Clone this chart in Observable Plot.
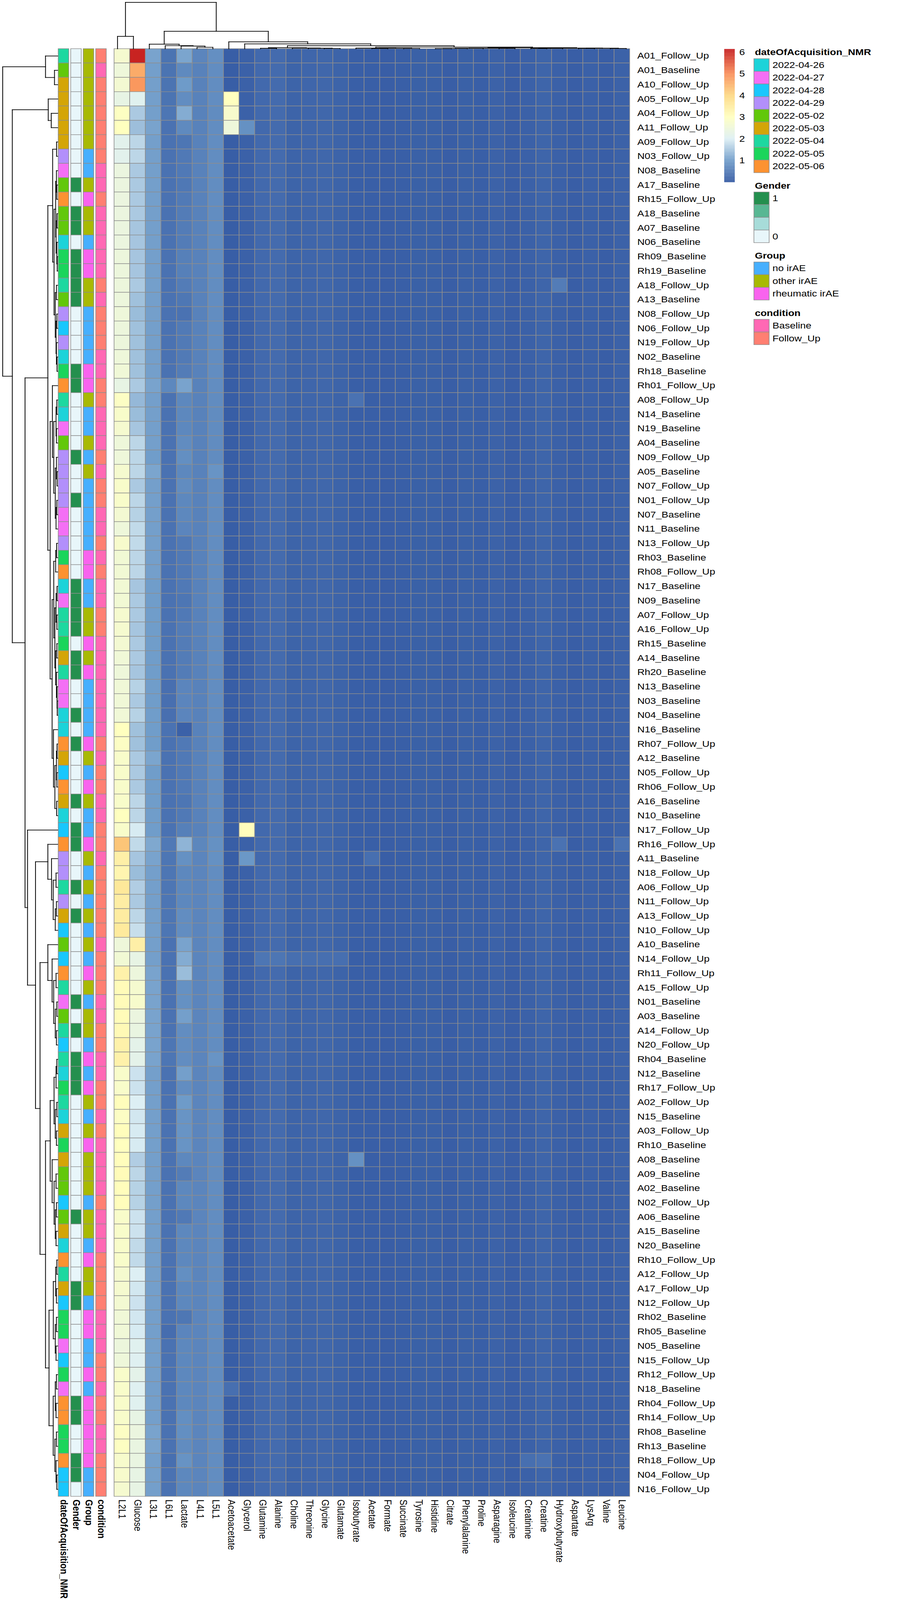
<!DOCTYPE html>
<html><head><meta charset="utf-8">
<script src="https://cdn.jsdelivr.net/npm/d3@7"></script>
<script src="https://cdn.jsdelivr.net/npm/@observablehq/plot@0.6"></script>
<style>
html,body{margin:0;padding:0;background:#fff;overflow:hidden;}
#wrap{position:relative;width:2304px;height:4800px;background:#fff;font-family:"Liberation Sans",Arial,sans-serif;color:#000;transform-origin:0 0;}
#wrap svg{position:absolute;left:0;top:0;overflow:visible;background:transparent;max-width:none!important;}
</style></head>
<body><div id="wrap"></div>
<script>
// ---------------- DATA ----------------
const samples = ["A01_Follow_Up","A01_Baseline","A10_Follow_Up","A05_Follow_Up","A04_Follow_Up","A11_Follow_Up","A09_Follow_Up","N03_Follow_Up","N08_Baseline","A17_Baseline",
"Rh15_Follow_Up","A18_Baseline","A07_Baseline","N06_Baseline","Rh09_Baseline","Rh19_Baseline","A18_Follow_Up","A13_Baseline","N08_Follow_Up","N06_Follow_Up",
"N19_Follow_Up","N02_Baseline","Rh18_Baseline","Rh01_Follow_Up","A08_Follow_Up","N14_Baseline","N19_Baseline","A04_Baseline","N09_Follow_Up","A05_Baseline",
"N07_Follow_Up","N01_Follow_Up","N07_Baseline","N11_Baseline","N13_Follow_Up","Rh03_Baseline","Rh08_Follow_Up","N17_Baseline","N09_Baseline","A07_Follow_Up",
"A16_Follow_Up","Rh15_Baseline","A14_Baseline","Rh20_Baseline","N13_Baseline","N03_Baseline","N04_Baseline","N16_Baseline","Rh07_Follow_Up","A12_Baseline",
"N05_Follow_Up","Rh06_Follow_Up","A16_Baseline","N10_Baseline","N17_Follow_Up","Rh16_Follow_Up","A11_Baseline","N18_Follow_Up","A06_Follow_Up","N11_Follow_Up",
"A13_Follow_Up","N10_Follow_Up","A10_Baseline","N14_Follow_Up","Rh11_Follow_Up","A15_Follow_Up","N01_Baseline","A03_Baseline","A14_Follow_Up","N20_Follow_Up",
"Rh04_Baseline","N12_Baseline","Rh17_Follow_Up","A02_Follow_Up","N15_Baseline","A03_Follow_Up","Rh10_Baseline","A08_Baseline","A09_Baseline","A02_Baseline",
"N02_Follow_Up","A06_Baseline","A15_Baseline","N20_Baseline","Rh10_Follow_Up","A12_Follow_Up","A17_Follow_Up","N12_Follow_Up","Rh02_Baseline","Rh05_Baseline",
"N05_Baseline","N15_Follow_Up","Rh12_Follow_Up","N18_Baseline","Rh04_Follow_Up","Rh14_Follow_Up","Rh08_Baseline","Rh13_Baseline","Rh18_Follow_Up","N04_Follow_Up",
"N16_Follow_Up"];

const metabolites = ["L2L1","Glucose","L3L1","L6L1","Lactate","L4L1","L5L1","Acetoacetate","Glycerol","Glutamine","Alanine","Choline","Threonine","Glycine","Glutamate","Isobutyrate","Acetate","Formate","Succinate","Tyrosine","Histidine","Citrate","Phenylalanine","Proline","Asparagine","Isoleucine","Creatinine","Creatine","Hydroxybutyrate","Aspartate","LysArg","Valine","Leucine"];

const dateOfAcquisition = ["2022-05-04","2022-05-02","2022-05-03","2022-05-03","2022-05-03","2022-05-03","2022-05-03","2022-04-29","2022-04-27","2022-05-02",
"2022-05-06","2022-05-02","2022-05-02","2022-04-26","2022-05-05","2022-05-05","2022-05-04","2022-05-02","2022-04-29","2022-04-28",
"2022-04-29","2022-04-26","2022-05-05","2022-05-06","2022-05-04","2022-04-26","2022-04-27","2022-05-02","2022-04-29","2022-04-29",
"2022-04-29","2022-04-29","2022-04-27","2022-04-27","2022-04-29","2022-05-05","2022-05-06","2022-04-26","2022-04-27","2022-05-04",
"2022-05-04","2022-05-05","2022-05-03","2022-05-04","2022-04-27","2022-04-27","2022-04-26","2022-04-26","2022-05-06","2022-05-03",
"2022-04-28","2022-05-06","2022-05-03","2022-04-26","2022-04-28","2022-05-06","2022-04-29","2022-04-29","2022-05-04","2022-04-29",
"2022-05-03","2022-04-28","2022-05-02","2022-04-28","2022-05-06","2022-05-04","2022-04-27","2022-05-02","2022-05-04","2022-04-28",
"2022-05-04","2022-04-26","2022-05-05","2022-05-04","2022-04-26","2022-05-03","2022-05-05","2022-05-03","2022-05-02","2022-05-02",
"2022-04-28","2022-05-02","2022-05-03","2022-04-26","2022-05-06","2022-05-04","2022-05-03","2022-04-28","2022-05-05","2022-05-05",
"2022-04-27","2022-04-28","2022-05-05","2022-04-27","2022-05-06","2022-05-06","2022-05-05","2022-05-05","2022-05-06","2022-04-28",
"2022-04-28"];
const gender = [0,0,0,0,0,0,0,0,0,1, 0,1,1,0,1,1,1,1,0,0, 0,0,1,1,0,0,0,0,1,0, 0,1,0,0,0,0,0,1,1,1,
1,0,1,1,0,0,1,0,1,0, 0,0,1,0,1,1,0,0,1,0, 1,0,0,0,0,0,1,0,1,0, 1,1,1,0,0,0,0,0,0,0,
0,1,0,0,0,0,1,1,0,0, 0,0,0,0,1,1,0,0,1,1, 0];
const groupOfPrefix = {A: "other irAE", N: "no irAE", Rh: "rheumatic irAE"};

const L2L1 = [2.7,2.5,2.65,2.3,2.95,3.0,2.15,2.15,2.4,2.4, 2.4,2.4,2.4,2.4,2.45,2.45,2.45,2.45,2.5,2.45,
2.45,2.5,2.55,2.3,2.9,2.8,2.7,2.5,2.5,2.7, 2.8,2.8,2.65,2.5,2.75,2.6,2.6,2.6,2.6,2.7,
2.7,2.65,2.55,2.5,2.55,2.55,2.55,3.0,2.9,2.8, 2.8,2.8,2.8,3.0,2.8,4.25,3.4,3.25,3.6,3.45,
3.5,3.55,2.5,2.6,3.35,3.1,3.1,3.1,3.15,3.35, 3.35,2.8,2.8,3.05,2.9,3.05,3.0,3.05,3.1,3.05,
3.05,2.8,2.8,2.8,2.8,2.7,2.7,2.65,2.55,2.55, 2.45,2.5,2.8,2.8,2.8,2.8,2.9,2.95,2.75,2.75, 2.7];
const Glucose = [6.05,4.6,4.85,2.1,1.55,1.42,1.7,1.7,1.55,1.55, 1.55,1.55,1.5,1.5,1.5,1.5,1.55,1.45,1.4,1.45,
1.45,1.45,1.45,1.55,1.35,1.4,1.5,1.7,1.7,1.7, 1.55,1.7,1.65,1.75,1.75,1.7,1.7,1.5,1.55,1.55,
1.5,1.55,1.55,1.5,1.65,1.55,1.65,1.45,1.45,1.55, 1.55,1.55,1.7,1.7,1.95,1.75,1.5,1.4,1.6,1.55,
1.7,1.8,3.4,2.3,2.45,2.7,2.75,2.4,2.35,2.2, 2.2,1.85,1.85,2.0,1.9,1.95,1.95,1.6,1.7,1.65,
1.65,1.85,1.85,1.75,1.75,2.0,1.9,1.85,1.9,1.95, 2.1,2.05,2.2,2.05,2.1,2.3,2.4,2.35,2.35,2.3, 2.3];
const L3L1 = [1.1,1.05,1.05,1.05,1.05,1.1,1.05,1.05,1.05,1.05, 1.05,1.05,1.05,1.05,1.05,1.05,1.05,1.05,1.05,1.05,
1.05,1.05,1.05,1.1,1.05,1.05,1.05,1.05,1.02,1.12, 1.05,1.05,1.05,1.05,1.05,1.05,1.05,1.02,1.02,1.02,
1.02,1.02,1.02,1.02,1.02,1.02,1.02,1.02,1.02,1.12, 1.02,1.02,1.02,1.02,1.02,1.15,1.1,1.05,1.05,1.05,
1.05,1.05,1.05,1.05,1.1,1.1,1.1,1.1,1.1,1.1, 1.1,1.05,1.05,1.05,1.05,1.05,1.05,1.05,1.05,1.05,
1.05,1.05,1.05,1.05,1.05,1.05,1.05,1.05,1.05,1.05, 1.05,1.05,1.05,1.05,1.05,1.05,1.1,1.1,1.05,1.05, 1.05];
const L6L1 = [0.42,0.42,0.42,0.42,0.45,0.4,0.4,0.4,0.4,0.4, 0.4,0.4,0.4,0.4,0.4,0.4,0.4,0.4,0.4,0.4,
0.4,0.4,0.4,0.72,0.4,0.4,0.4,0.4,0.4,0.4, 0.4,0.4,0.4,0.4,0.4,0.4,0.4,0.4,0.4,0.4,
0.4,0.4,0.4,0.4,0.36,0.36,0.36,0.4,0.4,0.4, 0.4,0.4,0.4,0.4,0.4,0.5,0.45,0.45,0.45,0.45,
0.45,0.45,0.4,0.4,0.4,0.4,0.4,0.4,0.4,0.45, 0.45,0.4,0.4,0.4,0.4,0.4,0.4,0.4,0.4,0.4,
0.4,0.4,0.4,0.4,0.4,0.4,0.4,0.4,0.4,0.33, 0.4,0.4,0.4,0.4,0.4,0.4,0.4,0.4,0.35,0.4, 0.4];
const Lactate = [1.12,0.75,1.0,0.8,1.2,0.75,0.45,0.5,0.5,0.48, 0.52,0.55,0.55,0.55,0.6,0.6,0.55,0.47,0.4,0.52,
0.52,0.52,0.55,1.1,0.72,0.72,0.72,0.78,0.82,0.72, 0.78,0.72,0.72,0.68,0.5,0.5,0.5,0.5,0.45,0.5,
0.55,0.55,0.55,0.55,0.68,0.68,0.68,0.15,0.5,0.5, 0.5,0.5,0.45,0.5,0.6,1.3,0.85,0.72,0.72,0.72,
0.8,0.8,1.1,1.2,1.4,0.85,0.85,1.05,0.8,0.8, 0.8,1.05,0.8,1.0,0.9,0.9,0.9,0.72,0.55,0.72,
0.72,0.5,0.72,0.72,0.72,0.82,0.72,0.72,0.47,0.68, 0.72,0.72,0.72,0.72,0.72,0.82,0.82,0.78,0.88,0.72, 0.72];
const L4L1 = [0.68,0.63,0.63,0.63,0.63,0.63,0.63,0.63,0.63,0.63, 0.63,0.63,0.63,0.63,0.63,0.63,0.63,0.63,0.63,0.63,
0.63,0.63,0.63,0.63,0.63,0.63,0.63,0.63,0.63,0.63, 0.63,0.63,0.63,0.63,0.63,0.63,0.63,0.63,0.63,0.63,
0.63,0.63,0.63,0.63,0.63,0.63,0.63,0.63,0.63,0.63, 0.63,0.63,0.63,0.63,0.63,0.7,0.68,0.68,0.68,0.68,
0.68,0.68,0.68,0.68,0.68,0.68,0.68,0.68,0.68,0.68, 0.68,0.68,0.68,0.68,0.68,0.68,0.68,0.68,0.68,0.68,
0.68,0.68,0.68,0.68,0.68,0.68,0.68,0.68,0.68,0.68, 0.68,0.68,0.68,0.68,0.68,0.68,0.68,0.68,0.68,0.68, 0.68];
const L5L1 = [0.83,0.8,0.8,0.8,0.78,0.8,0.8,0.8,0.8,0.8, 0.8,0.8,0.8,0.8,0.8,0.8,0.8,0.8,0.8,0.8,
0.8,0.8,0.8,0.8,0.78,0.78,0.78,0.78,0.78,0.9, 0.8,0.8,0.8,0.8,0.8,0.8,0.8,0.8,0.8,0.8,
0.8,0.8,0.8,0.78,0.8,0.8,0.8,0.8,0.8,0.8, 0.8,0.8,0.8,0.8,0.8,0.85,0.85,0.8,0.8,0.8,
0.8,0.8,0.8,0.8,0.8,0.8,0.8,0.8,0.8,0.8, 0.9,0.8,0.8,0.8,0.8,0.8,0.8,0.8,0.8,0.8,
0.8,0.8,0.8,0.8,0.8,0.8,0.8,0.8,0.8,0.8, 0.8,0.8,0.8,0.8,0.8,0.8,0.8,0.8,0.8,0.8, 0.8];

const restTypical = {Acetoacetate:0.1,Glycerol:0.15,Glutamine:0.27,Alanine:0.3,Choline:0.19,Threonine:0.22,Glycine:0.23,Glutamate:0.19,
Isobutyrate:0.12,Acetate:0.12,Formate:0.11,Succinate:0.12,Tyrosine:0.14,Histidine:0.14,Citrate:0.11,Phenylalanine:0.14,Proline:0.12,
Asparagine:0.16,Isoleucine:0.11,Creatinine:0.15,Creatine:0.2,Hydroxybutyrate:0.15,Aspartate:0.11,LysArg:0.15,Valine:0.11,Leucine:0.16};
const restOutliers = [
["A05_Follow_Up","Acetoacetate",3.0],["A04_Follow_Up","Acetoacetate",2.75],["A11_Follow_Up","Acetoacetate",2.5],["A11_Follow_Up","Glycerol",0.85],
["A18_Follow_Up","Hydroxybutyrate",0.55],["A08_Follow_Up","Isobutyrate",0.4],["N17_Follow_Up","Glycerol",3.05],
["A11_Baseline","Glycerol",0.95],["A11_Baseline","Acetate",0.35],["A08_Baseline","Isobutyrate",0.85],["N18_Baseline","Acetoacetate",0.35],
["N14_Follow_Up","Glutamine",0.45],["N14_Follow_Up","Alanine",0.45],["N14_Follow_Up","Choline",0.35],["N14_Follow_Up","Threonine",0.35],
["N14_Follow_Up","Glycine",0.35],["N14_Follow_Up","Glutamate",0.35],["Rh16_Follow_Up","Hydroxybutyrate",0.4],["Rh16_Follow_Up","Leucine",0.4],
["Rh18_Follow_Up","Creatinine",0.35],["Rh18_Follow_Up","Creatine",0.4]];

// row dendrogram: [height, left, right]; leaves = row number (1-based, display order)
const rowTree = [140.6,
  [31, 1, [8, 2, 3]],
  [116,
    [24, 4, [16.3, 5, 6]],
    [83.4,
      [25,
        [12.7, [2.7, 7, 8], [9.1, [5, [3, 9, [2, 10, 11]], [4, [1.5, 12, 13], [2, 14, [1, 15, 16]]]], [6, [3, 17, 18], [4, [2, 19, 20], [3, 21, [1.5, 22, 23]]]]]],
        [19.1,
          [13.4, 24, [9.9, [4, [2, 25, 26], [3, 27, 28]], [6, [3, 29, [1.5, 30, 31]], [4, [2, 32, 33], 34]]]],
          [14.1,
            [9.9, [5, [2.5, 35, 36], 37], [7, [4, [1.5, 38, 39], [2, 40, 41]], [5, [2, 42, 43], [3, 44, [1.5, 45, [1, 46, 47]]]]]],
            [10.6, 48, [7, [3, [1.5, 49, 50], [2, 51, 52]], [2.5, 53, 54]]]]]],
      [77, 55,
        [56.6,
          [25, 56, [15.6, 57, [11.3, [4, 58, 59], [6, [3, 60, 61], 62]]]],
          [45,
            [25, 63, [14.1, 64, [10, [4, 65, 66], [6, [2, 67, 68], [3, 69, 70]]]]],
            [31,
              [19, [9.1, [4, [2, 71, 72], 73], [6, [2, 74, 75], [3, 76, 77]]], [14, 78, [9, [4, 79, 80], [6, [3, 81, 82], [4, 83, 84]]]]],
              [22, [11, [5, [2, 85, 86], [3, 87, 88]], [6, [3, 89, 90], [4, 91, 92]]], [11.3, [6, [3, 93, 94], [4, 95, 96]], [7, [3, 97, 98], [4, 99, [2, 100, 101]]]]]]]]]]]];

// column dendrogram: leaves = metabolite position (0-based)
const colTree = [139.3,
  [37.3, 0, 1],
  [52.7,
    [14, 2, [9.7, 3, [8.3, 4, [4.7, 5, 6]]]],
    [21, 7, [14.7, 8, [9.3,
      [3.3, [1.7, 9, 10], [2.5, 11, [1.8, 12, [1.2, 13, 14]]]],
      [5.3, [2.3, 15, [1.8, [1, 16, 17], [1.2, 18, 19]]],
        [3.3, [2.3, [1.8, [1.2, [0.8, 20, 21], 22], 23], [1.5, 24, 25]], [2.3, [1.6, [1, 26, 27], 28], [1.8, [1.2, 29, 30], [1, 31, 32]]]]]]]]]];

const dateLevels = ["2022-04-26","2022-04-27","2022-04-28","2022-04-29","2022-05-02","2022-05-03","2022-05-04","2022-05-05","2022-05-06"];
const dateColors = ["#1cd3d9","#f46ff5","#19c7fd","#b28ffb","#62c80b","#d4a507","#1dd8a0","#1bd55b","#fd9231"];
const genderLevels = [1, 0.667, 0.333, 0];
const genderColors = ["#248f4e","#58b793","#a7dcd9","#e8f6fa"];
const groupLevels = ["no irAE","other irAE","rheumatic irAE"];
const groupColors = ["#47affe","#a8b904","#f963ee"];
const conditionLevels = ["Baseline","Follow_Up"];
const conditionColors = ["#ff68b4","#ff7f72"];
const heatStops = [0, 1, 2, 3, 4, 5, 6.14];
const heatColors = ["#3257a2","#6e9bc9","#ddeff4","#ffffbf","#fdd882","#f98d58","#c41a1c"];
const colorbarTicks = [1, 2, 3, 4, 5, 6];

// ---------------- BUILD ----------------
const W = 2304, H = 4800;
const FONT = "'Liberation Sans', Arial, Helvetica, sans-serif";
const baseStyle = {fontFamily: FONT, fontSize: "26px", color: "#000", background: "transparent", overflow: "visible"};
const GRID = "#8e8e8e";
const wrap = document.getElementById("wrap");
const add = (el) => { el.style.position = "absolute"; el.style.left = "0px"; el.style.top = "0px"; el.style.maxWidth = "none"; wrap.appendChild(el); };

const firstCols = {L2L1, Glucose, L3L1, L6L1, Lactate, L4L1, L5L1};
const outlierMap = new Map(restOutliers.map(([s, m, v]) => [s + "|" + m, v]));
const cells = [];
samples.forEach((s, i) => metabolites.forEach((m) => {
  const v = firstCols[m] ? firstCols[m][i] : (outlierMap.has(s + "|" + m) ? outlierMap.get(s + "|" + m) : restTypical[m]);
  cells.push({s, m, v});
}));

const hx0 = 280, hx1 = 1623, hy0 = 146, hy1 = 4489;
const colorScale = {type: "linear", domain: heatStops, range: heatColors, interpolate: "rgb"};

// heatmap with sample labels (right) and metabolite labels (bottom)
add(Plot.plot({
  width: W, height: H, marginLeft: hx0, marginRight: W - hx1, marginTop: hy0, marginBottom: H - hy1,
  style: baseStyle,
  x: {type: "band", domain: metabolites, padding: 0},
  y: {type: "band", domain: samples, padding: 0},
  color: colorScale,
  marks: [
    Plot.cell(cells, {x: "m", y: "s", fill: "v", stroke: GRID, strokeWidth: 1.6, inset: 0}),
    Plot.axisY({anchor: "right", tickSize: 0, tickPadding: 8, fontSize: 26, label: null}),
    Plot.axisX({anchor: "bottom", tickSize: 0, tickPadding: 9, tickRotate: 90, fontSize: 26, label: null})
  ]
}));

// annotation columns
const annNames = ["dateOfAcquisition_NMR", "Gender", "Group", "condition"];
const dateCol = Object.fromEntries(dateLevels.map((d, i) => [d, dateColors[i]]));
const groupCol = Object.fromEntries(groupLevels.map((d, i) => [d, groupColors[i]]));
const condCol = Object.fromEntries(conditionLevels.map((d, i) => [d, conditionColors[i]]));
const ann = [];
samples.forEach((s, i) => {
  const grp = groupOfPrefix[s.match(/^[A-Za-z]+/)[0]];
  const cond = s.endsWith("Baseline") ? "Baseline" : "Follow_Up";
  ann.push({s, k: "dateOfAcquisition_NMR", c: dateCol[dateOfAcquisition[i]]});
  ann.push({s, k: "Gender", c: gender[i] === 1 ? genderColors[0] : genderColors[3]});
  ann.push({s, k: "Group", c: groupCol[grp]});
  ann.push({s, k: "condition", c: condCol[cond]});
});
add(Plot.plot({
  width: W, height: H, marginLeft: 149, marginRight: W - 272, marginTop: hy0, marginBottom: H - hy1,
  style: baseStyle,
  x: {type: "band", domain: annNames, paddingInner: 5 / 32, paddingOuter: 0},
  y: {type: "band", domain: samples, padding: 0, axis: null},
  marks: [
    Plot.cell(ann, {x: "k", y: "s", fill: "c", stroke: GRID, strokeWidth: 1.6, inset: 0}),
    Plot.axisX({anchor: "bottom", tickSize: 0, tickPadding: 9, tickRotate: 90, fontSize: 26, fontWeight: "bold", label: null})
  ]
}));

// dendrograms (node position = mean of its two children, as in hclust plots)
function dendroSegments(tree, leafPos) {
  const segs = [];
  (function rec(n) {
    if (typeof n === "number") return {p: leafPos(n), h: 0};
    const [h, a, b] = n;
    const A = rec(a), B = rec(b);
    segs.push({h1: A.h, p1: A.p, h2: h, p2: A.p});
    segs.push({h1: B.h, p1: B.p, h2: h, p2: B.p});
    segs.push({h1: h, p1: A.p, h2: h, p2: B.p});
    return {p: (A.p + B.p) / 2, h};
  })(tree);
  return segs;
}
const rowSegs = dendroSegments(rowTree, (r) => r - 1 + 0.5);
const colSegs = dendroSegments(colTree, (c) => c + 0.5);

add(Plot.plot({
  width: W, height: H, marginLeft: 6.4, marginRight: W - 147, marginTop: hy0, marginBottom: H - hy1,
  style: baseStyle,
  x: {domain: [rowTree[0], 0], axis: null},
  y: {domain: [0, samples.length], reverse: true, axis: null},
  marks: [Plot.link(rowSegs, {x1: "h1", y1: "p1", x2: "h2", y2: "p2", stroke: "#000", strokeWidth: 2, strokeLinecap: "square"})]
}));
add(Plot.plot({
  width: W, height: H, marginLeft: hx0, marginRight: W - hx1, marginTop: 6.7, marginBottom: H - hy0,
  style: baseStyle,
  x: {domain: [0, metabolites.length], axis: null},
  y: {domain: [0, colTree[0]], axis: null},
  marks: [Plot.link(colSegs, {x1: "p1", y1: "h1", x2: "p2", y2: "h2", stroke: "#000", strokeWidth: 2, strokeLinecap: "square"})]
}));

// colour bar
const nSteps = 240, vmax = heatStops[heatStops.length - 1];
const steps = d3.range(nSteps).map(i => ({a: i * vmax / nSteps, b: Math.min(vmax, (i + 1.05) * vmax / nSteps), m: (i + 0.5) * vmax / nSteps}));
add(Plot.plot({
  width: W, height: H, marginLeft: 1854, marginRight: W - 1881, marginTop: 147, marginBottom: H - 546.5,
  style: baseStyle,
  y: {domain: [0, vmax], axis: null},
  color: colorScale,
  marks: [
    Plot.rect(steps, {y1: "a", y2: "b", fill: "m", inset: 0}),
    Plot.axisY({anchor: "right", ticks: colorbarTicks, tickSize: 0, tickPadding: 11, fontSize: 26, label: null, tickFormat: d3.format("d")})
  ]
}));

// categorical legends
function legendBlock(title, levels, colors, top, step, fmt) {
  const bottom = top + step * levels.length;
  add(Plot.plot({
    width: W, height: H, marginLeft: 1930, marginRight: W - 1969, marginTop: top, marginBottom: H - bottom,
    style: baseStyle,
    x: {type: "band", domain: ["swatch"], padding: 0, axis: null},
    y: {type: "band", domain: levels, padding: 0, axis: null},
    marks: [
      Plot.cell(levels.map((l, i) => ({l, c: colors[i]})), {x: () => "swatch", y: "l", fill: "c", stroke: GRID, strokeWidth: 1.6, inset: 0}),
      Plot.axisY({anchor: "right", tickSize: 0, tickPadding: 8, fontSize: 26, label: null, tickFormat: fmt || (d => d)}),
      Plot.text([title], {frameAnchor: "top-left", dy: -19, dx: 2, textAnchor: "start", lineAnchor: "middle", fontWeight: "bold", fontSize: 26})
    ]
  }));
}
legendBlock("dateOfAcquisition_NMR", dateLevels, dateColors, 175, 38.2);
legendBlock("Gender", genderLevels, genderColors, 576, 38.1, d => d === 1 ? "1" : d === 0 ? "0" : "");
legendBlock("Group", groupLevels, groupColors, 786, 38.3);
legendBlock("condition", conditionLevels, conditionColors, 958, 38.1);

// fit the 2304x4800 canvas into the real viewport
const sx = Math.min(1, window.innerWidth / W), sy = Math.min(1, window.innerHeight / H);
if (sx < 0.999 || sy < 0.999) wrap.style.transform = `scale(${sx}, ${sy})`;
</script>
</body></html>
